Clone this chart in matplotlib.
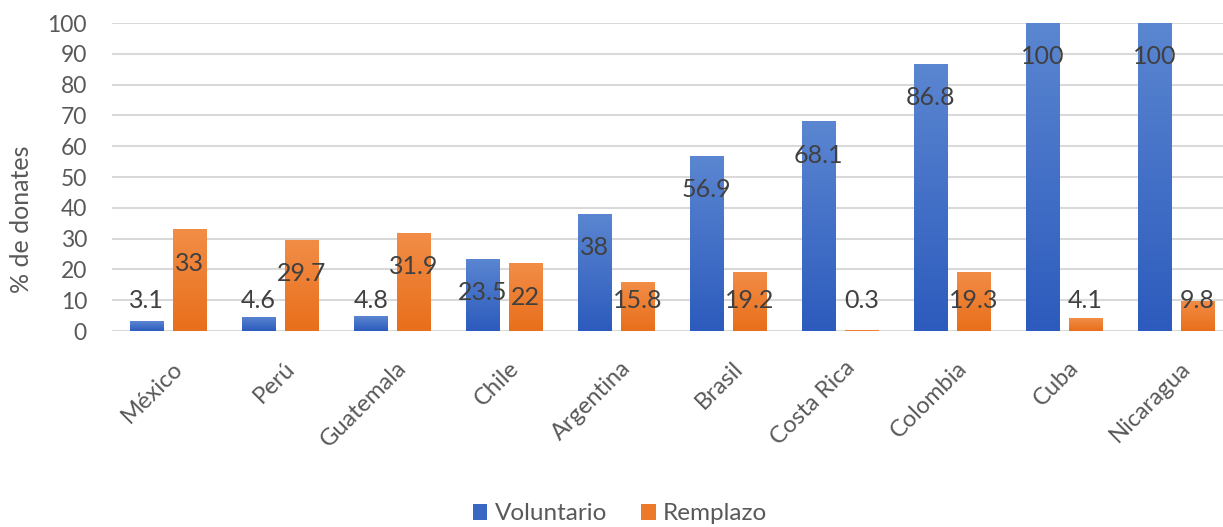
import matplotlib
matplotlib.use("Agg")
import matplotlib.pyplot as plt
import numpy as np
from matplotlib.colors import LinearSegmentedColormap
from matplotlib.patches import Patch
from matplotlib.transforms import ScaledTranslation

countries = ["México", "Perú", "Guatemala", "Chile", "Argentina", "Brasil",
             "Costa Rica", "Colombia", "Cuba", "Nicaragua"]
voluntario = [3.1, 4.6, 4.8, 23.5, 38, 56.9, 68.1, 86.8, 100, 100]
remplazo = [33, 29.7, 31.9, 22, 15.8, 19.2, 0.3, 19.3, 4.1, 9.8]
series_names = ["Voluntario", "Remplazo"]
yticks = [0, 10, 20, 30, 40, 50, 60, 70, 80, 90, 100]

plt.rcParams['font.family'] = ['Lato', 'DejaVu Sans']

fig = plt.figure(figsize=(12.23, 5.27), dpi=100)
ax = fig.add_axes([112/1223, 1-331/527, 1120/1223, 308/527])

x = np.arange(len(countries))
w = 0.295
off = 0.19

blue_cmap = LinearSegmentedColormap.from_list("b", ["#2C5BBD", "#5B86D1"])
orange_cmap = LinearSegmentedColormap.from_list("o", ["#E86F1B", "#F28D47"])

bars_v = ax.bar(x - off, voluntario, w, color="#3A67C3", zorder=2)
bars_r = ax.bar(x + off, remplazo, w, color="#EC7A2A", zorder=2)

grad = np.linspace(0, 1, 256).reshape(-1, 1)
for bars, cmap in ((bars_v, blue_cmap), (bars_r, orange_cmap)):
    for b in bars:
        bx, by, bw, bh = b.get_x(), b.get_y(), b.get_width(), b.get_height()
        if bh <= 0:
            continue
        im = ax.imshow(grad, cmap=cmap, origin="lower", aspect="auto",
                       extent=[bx, bx + bw, by, by + bh], zorder=2.5)
        im.set_clip_path(b)

ax.set_xlim(-0.5, len(countries) - 0.5)
ax.set_ylim(0, 100)
ax.set_yticks(yticks)
ax.set_yticklabels([str(t) for t in yticks])
ax.grid(axis="y", color="#D9D9D9", linewidth=1.5, zorder=0)
ax.set_axisbelow(True)
for s in ax.spines.values():
    s.set_visible(False)
ax.tick_params(axis="both", length=0)
ax.tick_params(axis="y", labelsize=16.5, labelcolor="#595959", pad=18)
ax.set_xticks(x)
ax.set_xticklabels(countries, rotation=45, ha="right", rotation_mode="anchor",
                   fontsize=17, color="#595959")
ax.tick_params(axis="x", pad=19)
shift = ScaledTranslation(4/100, 0, fig.dpi_scale_trans)
for lab in ax.get_xticklabels():
    lab.set_transform(lab.get_transform() + shift)

ax.set_ylabel("% de donates", fontsize=18, color="#595959")
ax.yaxis.set_label_coords(-0.0705, 0.364)

def fmt(v):
    return ("%g" % v)

for bars, vals in ((bars_v, voluntario), (bars_r, remplazo)):
    for b, v in zip(bars, vals):
        ly = max(v - 11, 10)
        ax.text(b.get_x() + b.get_width() / 2, ly, fmt(v), ha="center", va="center",
                fontsize=18, color="#404040", zorder=4)

handles = [Patch(facecolor="#3A67C3"), Patch(facecolor="#EC7A2A")]
fig.legend(handles, series_names, loc="center", bbox_to_anchor=(620/1223, 1-514/527),
           ncol=2, frameon=False, fontsize=17.5, labelcolor="#595959",
           handlelength=0.6, handleheight=0.6, handletextpad=0.3, columnspacing=1.4)

fig.savefig("out.png", dpi=100)
